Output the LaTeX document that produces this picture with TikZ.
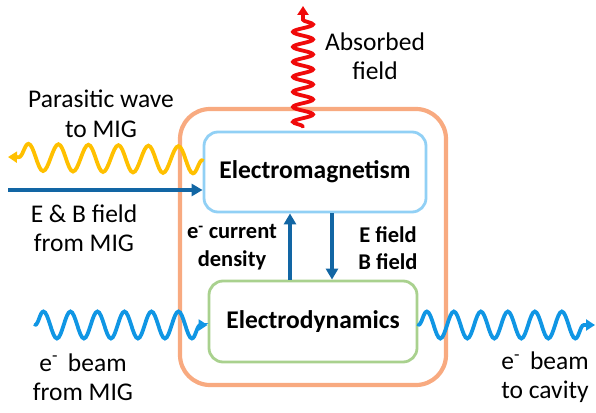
\documentclass[tikz,border=0pt]{standalone}
\usepackage{fontspec}
\setmainfont{Carlito}
\usepackage{tikz}
\usetikzlibrary{positioning,arrows.meta,decorations.pathmorphing,calc}
\usepackage{xcolor}
\definecolor{coreorange}{RGB}{248,170,128}
\definecolor{emblue}{RGB}{145,208,245}
\definecolor{edgreen}{RGB}{169,209,142}
\definecolor{fielddark}{RGB}{18,102,164}
\definecolor{beamblue}{RGB}{16,150,228}
\definecolor{parayellow}{RGB}{255,192,0}
\definecolor{absred}{RGB}{240,10,10}

\begin{document}
\begin{tikzpicture}[x=1pt,y=-1pt,
  box/.style={rectangle,rounded corners=14pt,line width=2.8pt,fill=white,
              align=center,font=\fontsize{25.5}{30}\selectfont\bfseries},
  lbl/.style={align=center,font=\fontsize{25.5}{29.5}\selectfont},
  inlbl/.style={align=center,font=\fontsize{22.5}{27.5}\selectfont\bfseries},
  arr/.style={-{Triangle[width=12pt,length=11pt]},fielddark,line width=3.2pt},
  wave/.style={-{Triangle[width=11pt,length=9pt]},line width=3.8pt,line cap=round,
               decorate,decoration={snake,amplitude=13.5pt,segment length=27pt,
               pre length=0pt,post length=7pt}}
]
\useasboundingbox (0,0) rectangle (596,412);
\node[rectangle,draw=coreorange,rounded corners=30pt,line width=4.2pt,
      minimum width=266pt,minimum height=276pt] (core) at (313,247) {};
\node[box,draw=emblue,minimum width=222pt,minimum height=80pt] (em) at (315,172) {Electromagnetism};
\node[box,draw=edgreen,minimum width=208pt,minimum height=81pt] (ed) at (313,321.5) {Electrodynamics};
% inner coupling
\draw[arr] ([xshift=-23pt]ed.north) -- ([xshift=-25pt]em.south);
\draw[arr] ([xshift=17pt]em.south) -- ([xshift=19pt]ed.north);
\node[inlbl] (cur) at (232,247) {e\textsuperscript{-} current\\density};
\node[inlbl] (ebf) at (388,248) {E field\\B field};
% ports
\coordinate (absorb) at (303,6);
\coordinate (para) at (8,157);
\coordinate (ebin) at (8,190);
\coordinate (beamin) at (35,325);
\coordinate (beamout) at (595,325);
\draw[wave,absred,decoration={amplitude=10pt,segment length=15pt}]
  ([xshift=-12pt,yshift=4pt]em.north) -- (absorb);
\draw[wave,parayellow,decoration={amplitude=13.5pt,segment length=30pt}]
  ([yshift=12pt]em.west) -- (para);
\draw[arr] (ebin) -- ([yshift=-18pt]em.west);
\draw[wave,beamblue] (beamin) -- ([yshift=-3.5pt]ed.west);
\draw[wave,beamblue] ([yshift=-3.5pt]ed.east) -- (beamout);
% labels
\node[lbl] (abslbl) at (375,56) {Absorbed\\field};
\node[lbl] (paralbl) at (101,114) {Parasitic wave\\to MIG};
\node[lbl] (eblbl) at (84,228) {E \& B field\\from MIG};
\node[lbl] (inlbl) at (83,377) {e\textsuperscript{-}\, beam\\from MIG};
\node[lbl] (outlbl) at (545,377) {e\textsuperscript{-}\, beam\\to cavity};
\end{tikzpicture}
\end{document}
